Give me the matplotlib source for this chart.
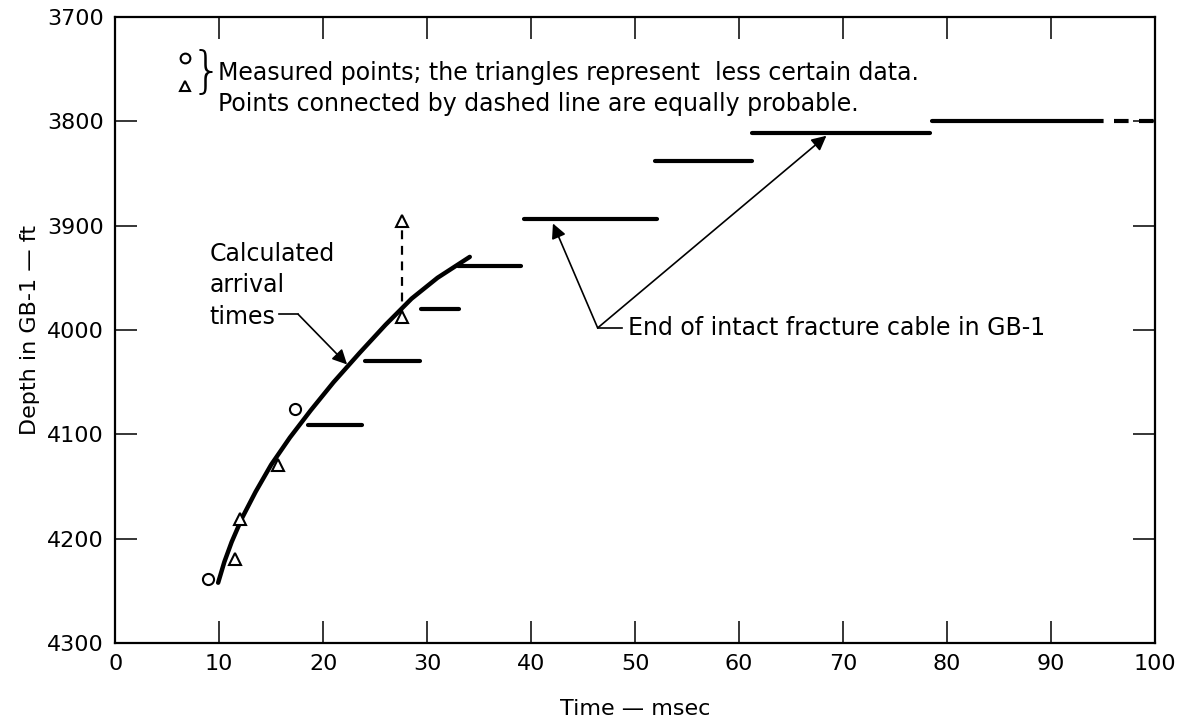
import numpy as np
import matplotlib.pyplot as plt
from matplotlib.ticker import MultipleLocator

plt.rcParams['font.family'] = ['DejaVu Sans']

# calculated arrival time curve (msec, ft)
curve_t = [9.9, 10.5, 11.2, 12.2, 13.5, 15.0, 16.8, 18.8, 21.0, 23.5, 26.0, 28.5, 31.0, 34.1]
curve_d = [4242, 4222, 4203, 4180, 4155, 4129, 4103, 4077, 4050, 4022, 3995, 3970, 3950, 3930]

# measured points
circle_t = [8.9, 17.3]
circle_d = [4238, 4076]
tri_t = [11.5, 12.0, 15.7, 27.6]
tri_d = [4219, 4181, 4129, 3988]

# equally probable pair joined by dashed line
pair_t = [27.6, 27.6]
pair_d = [3988, 3896]

# end of intact fracture cable: start, stop, depth
cable_t0 = [18.55, 24.0, 29.4, 33.0, 39.3, 51.95, 61.2, 78.6]
cable_t1 = [23.7, 29.3, 33.1, 39.0, 52.1, 61.2, 78.4, 93.7]
cable_d = [4091, 4030, 3980, 3938.5, 3893.5, 3838.5, 3811.5, 3799.5]
last_dash = [93.7, 100]

fig = plt.figure(figsize=(11.78, 7.25), dpi=100)
ax = fig.add_axes([115.2 / 1178, 1 - 643.3 / 725, (1155 - 115.2) / 1178, (643.3 - 16.7) / 725])

ax.plot(curve_t, curve_d, color='black', lw=3.2, solid_capstyle='round', zorder=3)

for t0, t1, d in zip(cable_t0, cable_t1, cable_d):
    ax.plot([t0, t1], [d, d], color='black', lw=3.0, solid_capstyle='round', zorder=3)
ax.plot(last_dash, [cable_d[-1]] * 2, color='black', lw=3.0, ls=(0, (3.5, 2.5)), zorder=3)

ax.plot(pair_t, pair_d, color='black', lw=1.6, ls=(0, (4, 3)), zorder=2)
ax.plot(circle_t, circle_d, ls='none', marker='o', ms=8, mfc='white', mec='black', mew=1.5, zorder=4)
ax.plot(tri_t + [pair_t[1]], tri_d + [pair_d[1]], ls='none', marker='^', ms=8.5, mfc='white',
        mec='black', mew=1.5, zorder=4)

# key
ax.plot([6.7], [3740], ls='none', marker='o', ms=7, mfc='white', mec='black', mew=1.5)
ax.plot([6.7], [3766], ls='none', marker='^', ms=7.5, mfc='white', mec='black', mew=1.5)
ax.text(7.2, 3754, '}', fontsize=36, va='center', ha='left', fontweight='light')
ax.text(9.9, 3761, 'Measured points; the triangles represent  less certain data.', fontsize=17, va='baseline')
ax.text(9.9, 3790, 'Points connected by dashed line are equally probable.', fontsize=17, va='baseline')

# calculated arrival times label
ax.text(9.1, 3933.6, 'Calculated', fontsize=17, va='baseline')
ax.text(9.1, 3964, 'arrival', fontsize=17, va='baseline')
ax.text(9.1, 3994.3, 'times', fontsize=17, va='baseline')
ax.plot([15.8, 17.6], [3985, 3985], color='black', lw=1.2)
ax.annotate('', xy=(22.3, 4033), xytext=(17.6, 3985),
            arrowprops=dict(arrowstyle='-|>', color='black', lw=1.2, mutation_scale=22, shrinkA=0, shrinkB=0))

# end of cable label
ax.plot([46.4, 48.7], [3998, 3998], color='black', lw=1.2)
ax.annotate('', xy=(42.1, 3898), xytext=(46.4, 3998),
            arrowprops=dict(arrowstyle='-|>', color='black', lw=1.2, mutation_scale=22, shrinkA=0, shrinkB=0))
ax.annotate('', xy=(68.4, 3814), xytext=(46.4, 3998),
            arrowprops=dict(arrowstyle='-|>', color='black', lw=1.2, mutation_scale=22, shrinkA=0, shrinkB=0))
ax.text(49.3, 3998, 'End of intact fracture cable in GB-1', fontsize=17, va='center')

ax.set_xlim(0, 100)
ax.set_ylim(4300, 3700)
ax.xaxis.set_major_locator(MultipleLocator(10))
ax.yaxis.set_major_locator(MultipleLocator(100))
ax.tick_params(direction='in', length=16, width=1.1, top=True, right=True, labelsize=16, pad=8)
for s in ax.spines.values():
    s.set_linewidth(1.6)

ax.set_xlabel('Time \u2014 msec', fontsize=16, labelpad=18)
ax.set_ylabel('Depth in GB-1 \u2014 ft', fontsize=16, labelpad=5)

plt.savefig('out.png', dpi=100)
